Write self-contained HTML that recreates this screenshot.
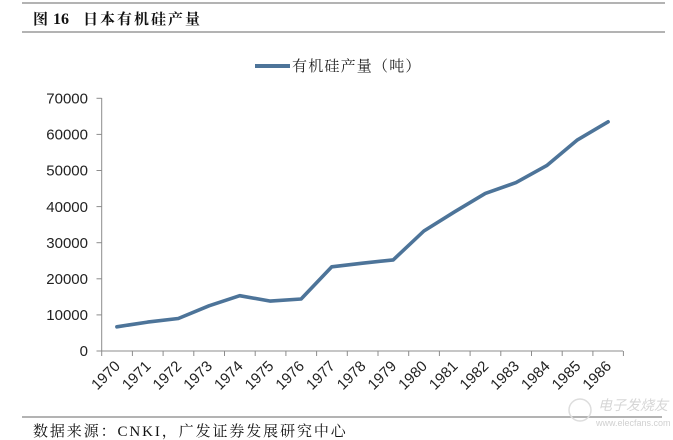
<!DOCTYPE html>
<html><head><meta charset="utf-8"><style>
html,body{margin:0;padding:0;background:#fff;}
svg{display:block;}
</style></head><body>
<svg width="673" height="440" viewBox="0 0 673 440" xmlns="http://www.w3.org/2000/svg">
<rect width="673" height="440" fill="#fff"/>
<!-- header rules -->
<line x1="22" y1="3" x2="665" y2="3" stroke="#9a9a9a" stroke-width="1.5"/>
<line x1="22" y1="32" x2="665" y2="32" stroke="#9a9a9a" stroke-width="1.5"/>
<text x="33" y="24" font-family="'Liberation Serif','Noto Serif CJK SC',serif" font-size="15" font-weight="bold" fill="#111">图</text>
<text x="53" y="24" font-family="'Liberation Serif',serif" font-size="16" font-weight="bold" fill="#111">16</text>
<text x="83" y="24" font-family="'Liberation Serif','Noto Serif CJK SC',serif" font-size="15" font-weight="bold" letter-spacing="2" fill="#111">日本有机硅产量</text>
<!-- legend -->
<line x1="255" y1="66" x2="290" y2="66" stroke="#4d7499" stroke-width="4"/>
<text x="292" y="71" font-family="'Liberation Serif','Noto Serif CJK SC',serif" font-size="15" letter-spacing="1.2" fill="#222">有机硅产量（吨）</text>
<!-- axes -->
<g stroke="#8c8c8c" stroke-width="1">
<line x1="101.7" y1="98" x2="101.7" y2="351"/>
<line x1="101.7" y1="351" x2="623" y2="351"/>
<line x1="96.5" y1="98.3" x2="101.7" y2="98.3"/>
<line x1="96.5" y1="134.4" x2="101.7" y2="134.4"/>
<line x1="96.5" y1="170.5" x2="101.7" y2="170.5"/>
<line x1="96.5" y1="206.6" x2="101.7" y2="206.6"/>
<line x1="96.5" y1="242.7" x2="101.7" y2="242.7"/>
<line x1="96.5" y1="278.8" x2="101.7" y2="278.8"/>
<line x1="96.5" y1="314.9" x2="101.7" y2="314.9"/>
<line x1="96.5" y1="351" x2="101.7" y2="351"/>
</g>
<g stroke="#8c8c8c" stroke-width="1" id="xt"></g>
<g font-family="'Liberation Sans',sans-serif" font-size="15" fill="#222" text-anchor="end">
<text x="88" y="103.5">70000</text>
<text x="88" y="139.6">60000</text>
<text x="88" y="175.7">50000</text>
<text x="88" y="211.8">40000</text>
<text x="88" y="247.9">30000</text>
<text x="88" y="284">20000</text>
<text x="88" y="320.1">10000</text>
<text x="88" y="356.2">0</text>
</g>
<g stroke="#8c8c8c" stroke-width="1">
<line x1="101.7" y1="351" x2="101.7" y2="356"/>
<line x1="132.4" y1="351" x2="132.4" y2="356"/>
<line x1="163.1" y1="351" x2="163.1" y2="356"/>
<line x1="193.8" y1="351" x2="193.8" y2="356"/>
<line x1="224.5" y1="351" x2="224.5" y2="356"/>
<line x1="255.2" y1="351" x2="255.2" y2="356"/>
<line x1="285.9" y1="351" x2="285.9" y2="356"/>
<line x1="316.6" y1="351" x2="316.6" y2="356"/>
<line x1="347.3" y1="351" x2="347.3" y2="356"/>
<line x1="378" y1="351" x2="378" y2="356"/>
<line x1="408.7" y1="351" x2="408.7" y2="356"/>
<line x1="439.4" y1="351" x2="439.4" y2="356"/>
<line x1="470.1" y1="351" x2="470.1" y2="356"/>
<line x1="500.8" y1="351" x2="500.8" y2="356"/>
<line x1="531.5" y1="351" x2="531.5" y2="356"/>
<line x1="562.2" y1="351" x2="562.2" y2="356"/>
<line x1="592.9" y1="351" x2="592.9" y2="356"/>
<line x1="623.4" y1="351" x2="623.4" y2="356"/>
</g>
<g font-family="'Liberation Sans',sans-serif" font-size="15" fill="#222" text-anchor="end">
<text transform="translate(121,367) rotate(-45)">1970</text>
<text transform="translate(151.7,367) rotate(-45)">1971</text>
<text transform="translate(182.4,367) rotate(-45)">1972</text>
<text transform="translate(213.1,367) rotate(-45)">1973</text>
<text transform="translate(243.8,367) rotate(-45)">1974</text>
<text transform="translate(274.5,367) rotate(-45)">1975</text>
<text transform="translate(305.2,367) rotate(-45)">1976</text>
<text transform="translate(335.9,367) rotate(-45)">1977</text>
<text transform="translate(366.6,367) rotate(-45)">1978</text>
<text transform="translate(397.3,367) rotate(-45)">1979</text>
<text transform="translate(428,367) rotate(-45)">1980</text>
<text transform="translate(458.7,367) rotate(-45)">1981</text>
<text transform="translate(489.4,367) rotate(-45)">1982</text>
<text transform="translate(520.1,367) rotate(-45)">1983</text>
<text transform="translate(550.8,367) rotate(-45)">1984</text>
<text transform="translate(581.5,367) rotate(-45)">1985</text>
<text transform="translate(612.2,367) rotate(-45)">1986</text>
</g>
<!-- series -->
<polyline fill="none" stroke="#4d7499" stroke-width="3.6" stroke-linejoin="round" stroke-linecap="round"
points="116.9,326.8 147.6,322.1 178.3,318.5 209,305.8 239.7,295.7 270.4,301.1 301.1,299 331.8,266.8 362.5,263.2 393.2,259.9 423.9,231 454.6,211.8 485.3,193.4 516,182.6 546.7,165.6 577.4,139.9 608.1,121.8"/>
<!-- footer -->
<line x1="22" y1="417" x2="662" y2="417" stroke="#9a9a9a" stroke-width="1.5"/>
<text x="33" y="436" font-family="'Liberation Serif','Noto Serif CJK SC',serif" font-size="15" letter-spacing="1.9" fill="#111">数据来源：CNKI，广发证券发展研究中心</text>
<!-- watermark -->
<circle cx="580" cy="410" r="11" fill="none" stroke="#ddd" stroke-width="1.5"/>
<text x="598" y="410" font-family="'Liberation Sans','Noto Sans CJK SC',sans-serif" font-size="14" font-style="italic" fill="#d6d6d6">电子发烧友</text>
<text x="596" y="426" font-family="'Liberation Sans',sans-serif" font-size="9" fill="#d0d0d0">www.elecfans.com</text>
</svg>
</body></html>
